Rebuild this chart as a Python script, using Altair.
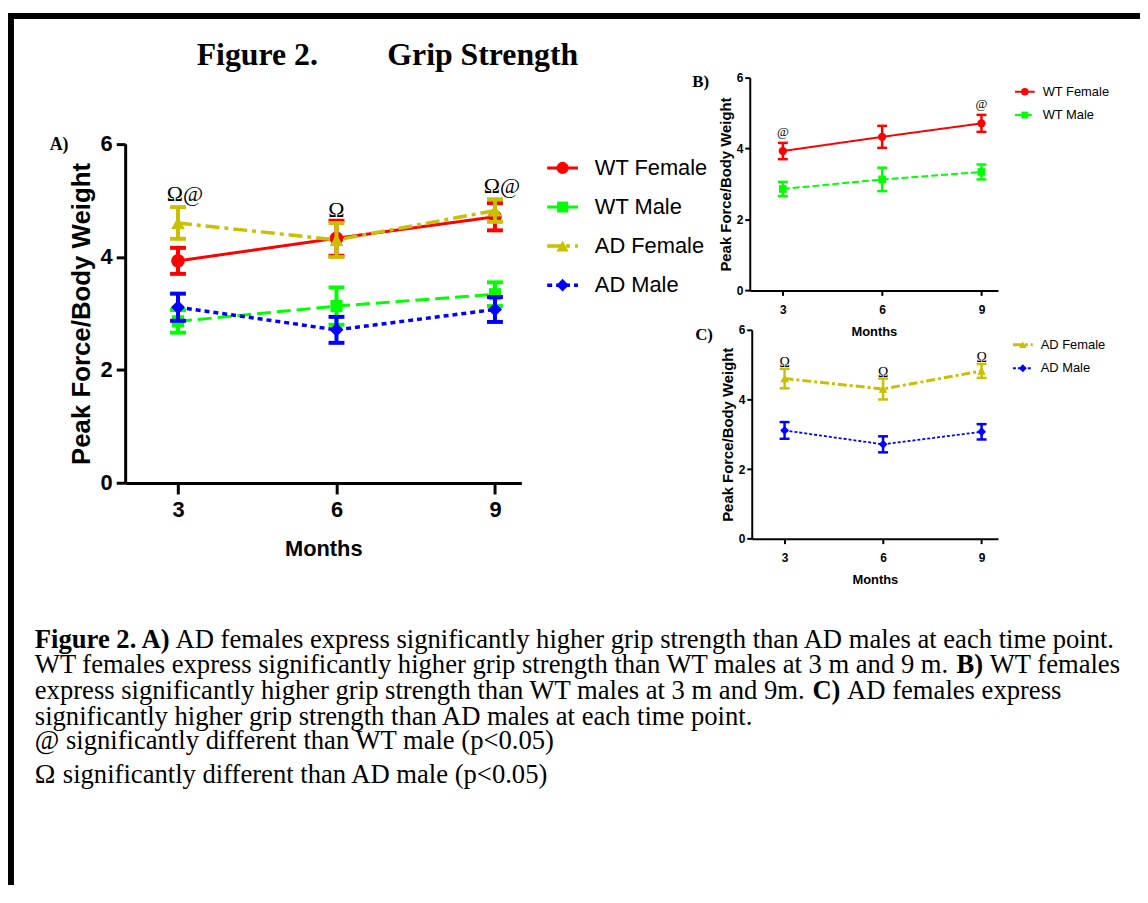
import altair as alt
import pandas as pd

# ---------------- data ----------------
MONTHS = [3, 6, 9]
SERIES = ["WT Female", "WT Male", "AD Female", "AD Male"]
WT_FEMALE_MEAN = [3.93, 4.33, 4.71]
WT_FEMALE_SEM = [0.23, 0.31, 0.24]
WT_MALE_MEAN = [2.86, 3.13, 3.34]
WT_MALE_SEM = [0.20, 0.33, 0.21]
AD_FEMALE_MEAN = [4.60, 4.30, 4.82]
AD_FEMALE_SEM = [0.28, 0.30, 0.20]
AD_MALE_MEAN = [3.11, 2.71, 3.07]
AD_MALE_SEM = [0.24, 0.23, 0.22]
Y_TICKS = [0, 2, 4, 6]
X_TICKS = [3, 6, 9]

A_SIG_MONTHS = [3, 6, 9]
A_SIG_LABELS = ["Ω@", "Ω", "Ω@"]
B_SIG_MONTHS = [3, 9]
B_SIG_LABELS = ["@", "@"]
C_SIG_MONTHS = [3, 6, 9]
C_SIG_LABELS = ["Ω", "Ω", "Ω"]

MEANS = {"WT Female": WT_FEMALE_MEAN, "WT Male": WT_MALE_MEAN,
         "AD Female": AD_FEMALE_MEAN, "AD Male": AD_MALE_MEAN}
SEMS = {"WT Female": WT_FEMALE_SEM, "WT Male": WT_MALE_SEM,
        "AD Female": AD_FEMALE_SEM, "AD Male": AD_MALE_SEM}

# ---------------- styles ----------------
SANS = "Liberation Sans"
SERIF = "Liberation Serif"
COLOR = {"WT Female": "#FF0000", "WT Male": "#00FF00",
         "AD Female": "#C8C000", "AD Male": "#0000FF"}
SHAPE = {"WT Female": "circle", "WT Male": "square",
         "AD Female": "triangle-up", "AD Male": "diamond"}

W, H = 1140, 880


def frame(s):
    m, e = MEANS[s], SEMS[s]
    return pd.DataFrame({"month": MONTHS, "mean": m,
                         "lo": [a - b for a, b in zip(m, e)],
                         "hi": [a + b for a, b in zip(m, e)],
                         "series": s})


STYLE_A = dict(lw={"WT Female": 3, "WT Male": 3, "AD Female": 3.5, "AD Male": 3.5},
               dash={"WT Female": [1, 0], "WT Male": [14, 6], "AD Female": [14, 5, 4, 5], "AD Male": [5, 4]},
               size={"WT Female": 190, "WT Male": 150, "AD Female": 190, "AD Male": 200},
               ew=4, cap=16, capw=4,
               axis=dict(dw=3, ts=9, tw=3, lfs=22, lpad=4, tfs=26, xtfs=22, xtpad=18, ytpad=6, xlpad=6, xts=11))
STYLE_S = dict(lw={"WT Female": 2, "WT Male": 2, "AD Female": 3, "AD Male": 1.8},
               dash={"WT Female": [1, 0], "WT Male": [7, 3], "AD Female": [9, 3, 3, 3], "AD Male": [3, 2]},
               size={"WT Female": 70, "WT Male": 60, "AD Female": 75, "AD Male": 80},
               ew=2.5, cap=10, capw=2.5,
               axis=dict(dw=2, ts=5, tw=2, lfs=12, lpad=2, tfs=15, xtfs=13, xtpad=10, ytpad=3, xlpad=9, xts=5))


def panel(series, xr, yr, st, sigs):
    a = st["axis"]
    xscale = alt.Scale(domain=[2, 9.5], range=xr, nice=False, zero=False)
    yscale = alt.Scale(domain=[0, 6], range=yr, nice=False, zero=False)
    xaxis = alt.Axis(orient="bottom", offset=yr[0] - H, values=X_TICKS, title="Months", grid=False,
                     domainColor="black", domainWidth=a["dw"], tickColor="black", tickWidth=a["tw"],
                     tickSize=a["xts"], labelFont=SANS, labelFontSize=a["lfs"], labelFontWeight="bold",
                     labelColor="black", labelPadding=a["xlpad"], titleFont=SANS, titleFontSize=a["xtfs"],
                     titleFontWeight="bold", titleColor="black", titlePadding=a["xtpad"])
    yaxis = alt.Axis(orient="left", offset=-xr[0], values=Y_TICKS, title="Peak Force/Body Weight", grid=False,
                     domainColor="black", domainWidth=a["dw"], tickColor="black", tickWidth=a["tw"],
                     tickSize=a["ts"], labelFont=SANS, labelFontSize=a["lfs"], labelFontWeight="bold",
                     labelColor="black", labelPadding=a["lpad"], titleFont=SANS, titleFontSize=a["tfs"],
                     titleFontWeight="bold", titleColor="black", titlePadding=a["ytpad"])

    def X():
        return alt.X("month:Q", scale=xscale, axis=xaxis)

    def Y(f):
        return alt.Y(f + ":Q", scale=yscale, axis=yaxis)

    layers = []
    for s in series:
        b = alt.Chart(frame(s))
        c = COLOR[s]
        layers.append(b.mark_rule(color=c, strokeWidth=st["ew"]).encode(x=X(), y=Y("lo"), y2="hi:Q"))
        layers.append(b.mark_tick(orient="horizontal", color=c, size=st["cap"], thickness=st["capw"], opacity=1)
                      .encode(x=X(), y=Y("hi")))
        layers.append(b.mark_tick(orient="horizontal", color=c, size=st["cap"], thickness=st["capw"], opacity=1)
                      .encode(x=X(), y=Y("lo")))
        layers.append(b.mark_line(color=c, strokeWidth=st["lw"][s], strokeDash=st["dash"][s])
                      .encode(x=X(), y=Y("mean")))
        layers.append(b.mark_point(filled=True, shape=SHAPE[s], size=st["size"][s], color=c, opacity=1)
                      .encode(x=X(), y=Y("mean")))
    for (s, months, labels, fs, dy, dxmap) in sigs:
        df = pd.DataFrame({"month": months, "label": labels}).merge(frame(s), on="month")
        for lab, dx in dxmap.items():
            layers.append(alt.Chart(df).transform_filter(alt.datum.label == lab)
                          .mark_text(font=SERIF, fontSize=fs, color="black", baseline="alphabetic", dy=dy, dx=dx)
                          .encode(x=X(), y=Y("hi"), text="label:N"))
    return alt.layer(*layers)


def legend(series, x0, x1, xt, yr, st, fs):
    df = pd.DataFrame({"series": series})
    yl = alt.Y("series:N", scale=alt.Scale(type="point", domain=series, range=yr, padding=0), axis=None)
    layers = []
    for s in series:
        b = alt.Chart(df).transform_filter(alt.datum.series == s)
        layers.append(b.mark_rule(color=COLOR[s], strokeWidth=st["lw"][s], strokeDash=st["dash"][s])
                      .encode(x=alt.value(x0), x2=alt.value(x1), y=yl))
        layers.append(b.mark_point(filled=True, shape=SHAPE[s], size=st["size"][s] * 0.8, color=COLOR[s], opacity=1)
                      .encode(x=alt.value((x0 + x1) / 2), y=yl))
    layers.append(alt.Chart(df).mark_text(align="left", baseline="middle", font=SANS, fontSize=fs, color="black")
                  .encode(x=alt.value(xt), y=yl, text="series:N"))
    return alt.layer(*layers)


ONE = pd.DataFrame({"k": [0]})


def label(text, x, y, font, size, bold=False, align="left"):
    return alt.Chart(ONE).mark_text(text=text, font=font, fontSize=size, fontWeight="bold" if bold else "normal",
                                    align=align, baseline="alphabetic", color="black") \
        .encode(x=alt.value(x), y=alt.value(y))


# frame of the figure
frame_top = alt.Chart(ONE).mark_rule(color="black", strokeWidth=6).encode(
    x=alt.value(0), x2=alt.value(W), y=alt.value(5))
frame_left = alt.Chart(ONE).mark_rule(color="black", strokeWidth=6).encode(
    x=alt.value(3), y=alt.value(2), y2=alt.value(H))

texts = [
    label("Figure 2.", 190, 54, SERIF, 32, True),
    label("Grip Strength", 382, 54, SERIF, 32, True),
    label("A)", 42, 140, SERIF, 18, True),
    label("B)", 689, 76, SERIF, 17, True),
    label("C)", 692, 331, SERIF, 17, True),
]

# caption (Times metrics, em widths used to join bold and regular pieces)
F = 26.8
SP = 0.25
X0 = 27
L1, L2, L3, L4, L5, L6 = 641, 667, 693, 719, 743, 777
caption = [
    ("Figure 2. A)", True, X0, L1),
    ("AD females express significantly higher grip strength than AD males at each time point.", False,
     X0 + 5.138 * F + 4, L1),
    ("WT females express significantly higher grip strength than WT males at 3 m and 9 m.", False, X0, L2),
    ("B)", True, X0 + 34.634 * F, L2),
    ("WT females", False, X0 + 35.884 * F, L2),
    ("express significantly higher grip strength than WT males at 3 m and 9m.", False, X0, L3),
    ("C)", True, X0 + 29.219 * F, L3),
    ("AD females express", False, X0 + 30.524 * F, L3),
    ("significantly higher grip strength than AD males at each time point.", False, X0, L4),
    ("@ significantly different than WT male (p<0.05)", False, X0, L5),
    ("significantly different than AD male (p<0.05)", False, X0 + 0.768 * 28 + SP * F, L6),
]
for (t, bold, x, y) in caption:
    texts.append(label(t, x, y, SERIF, F, bold))
texts.append(label("Ω", X0, L6, SERIF, 28, False))

panelA = panel(SERIES, [118, 517], [475.3, 133.7], STYLE_A,
               [("AD Female", A_SIG_MONTHS, A_SIG_LABELS, 22, -6, {"Ω@": 7, "Ω": 0})])
legendA = legend(SERIES, 543, 574, 591, [158, 276], STYLE_A, 22)

panelB = panel(["WT Female", "WT Male"], [747, 997], [281.3, 67], STYLE_S,
               [("WT Female", B_SIG_MONTHS, B_SIG_LABELS, 13, -7, {"@": 0})])
legendB = legend(["WT Female", "WT Male"], 1014, 1034, 1042, [81.3, 104.7], STYLE_S, 13)

panelC = panel(["AD Female", "AD Male"], [749, 997], [531.3, 321], STYLE_S,
               [("AD Female", C_SIG_MONTHS, C_SIG_LABELS, 14, -2, {"Ω": 0})])
legendC = legend(["AD Female", "AD Male"], 1012, 1032, 1040, [336, 359.7], STYLE_S, 13)

chart = alt.layer(frame_top, frame_left, *texts, panelA, legendA, panelB, legendB, panelC, legendC) \
    .resolve_scale(x="independent", y="independent") \
    .properties(width=W, height=H, autosize=alt.AutoSizeParams(type="none"), padding=0, background="white") \
    .configure_view(stroke=None)

chart.save("out.html", embed_options={"renderer": "svg", "actions": False})
